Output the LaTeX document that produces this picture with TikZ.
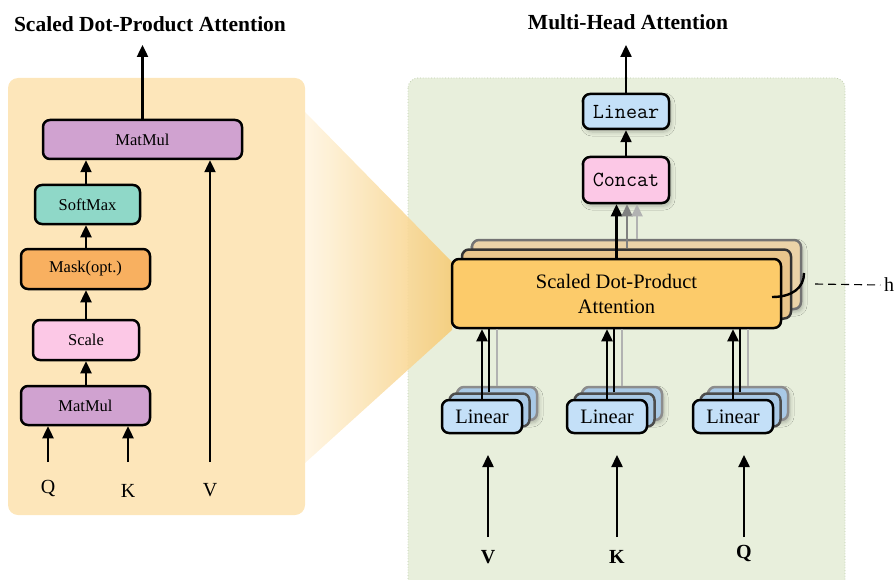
\documentclass[tikz,border=0pt]{standalone}
\usepackage{fontspec}
\setmainfont{Liberation Serif}
\usetikzlibrary{arrows.meta,shadows.blur}
\definecolor{lpanel}{HTML}{FDE6BA}
\definecolor{rpanel}{HTML}{E8EFDC}
\definecolor{rborder}{HTML}{BFCDAE}
\definecolor{purp}{HTML}{D0A2D0}
\definecolor{teal}{HTML}{8FD8C8}
\definecolor{maskc}{HTML}{F8B060}
\definecolor{pinkc}{HTML}{FCC8E6}
\definecolor{lblue}{HTML}{C4E0F8}
\definecolor{lblueb}{HTML}{A9C9E6}
\definecolor{sdpa}{HTML}{FCCB6A}
\definecolor{sdpab}{HTML}{E8C58C}
\definecolor{sdpac}{HTML}{EBD3A8}
\definecolor{funL}{HTML}{FFF5E2}
\definecolor{funR}{HTML}{F6CC78}
\begin{document}
\begin{tikzpicture}[x=1pt,y=-1pt,
  box/.style={draw=black, line width=2.5pt, rounded corners=7pt, inner sep=0pt, align=center},
  lbox/.style={box, font=\fontsize{16.5}{18}\selectfont},
  tip/.tip={Triangle[length=12pt,width=11pt]},
  arr/.style={-tip, line width=2.4pt},
  ln/.style={line width=2.4pt},
  gln/.style={line width=1.6pt, draw=black!30},
  ttl/.style={font=\fontsize{21.5}{24}\selectfont\bfseries},
  inlab/.style={font=\fontsize{20}{22}\selectfont},
  shad/.style={blur shadow={shadow xshift=2pt, shadow yshift=-3pt, shadow opacity=25, shadow blur radius=4pt}},
]
\useasboundingbox (0,0) rectangle (896,580);

% ---------- panels ----------
\fill[rpanel, draw=rborder, dotted, line width=0.8pt, rounded corners=10pt] (408,78) rectangle (845,590);
\shade[left color=funL, right color=funR, opacity=0.9] (305,112) -- (452,262) -- (452,330) -- (305,463) -- cycle;
\fill[lpanel, rounded corners=10pt] (8,78) rectangle (305,515);

% ---------- titles ----------
\node[ttl] (t1) at (150,24) {Scaled Dot-Product Attention};
\node[ttl] (t2) at (628,22) {Multi-Head Attention};

% ---------- left: scaled dot-product attention ----------
\node[lbox, fill=purp, minimum width=199pt, minimum height=39pt] (mm1) at (142.5,139.5) {MatMul};
\node[lbox, fill=teal, minimum width=105pt, minimum height=39pt] (sm) at (87.5,204.5) {SoftMax};
\node[lbox, fill=maskc, minimum width=129pt, minimum height=40pt] (mask) at (85.5,269) {Mask(opt.)};
\node[lbox, fill=pinkc, minimum width=106pt, minimum height=40pt] (scale) at (86,340) {Scale};
\node[lbox, fill=purp, minimum width=129pt, minimum height=39pt] (mm2) at (85.5,405.5) {MatMul};

\node[inlab] (lq) at (48,488) {Q};
\node[inlab] (lk) at (128,491) {K};
\node[inlab] (lv) at (210,490) {V};
\coordinate (qa) at (48,462);
\coordinate (ka) at (128,462);
\coordinate (va) at (210,462);
\coordinate (out1) at (142.5,45);

\draw[arr] (mm2.north -| scale.south) -- (scale.south);
\draw[arr] (scale.north) -- (scale.north |- mask.south);
\draw[arr] (mask.north -| 86,0) -- (86,0 |- sm.south);
\draw[arr] (sm.north -| 86,0) -- (86,0 |- mm1.south);
\draw[arr] (qa) -- (qa |- mm2.south);
\draw[arr] (ka) -- (ka |- mm2.south);
\draw[arr] (va) -- (va |- mm1.south);
\draw[arr] (mm1.north) -- (out1);

% ---------- right: multi-head attention ----------
% SDPA stack
\node[box, fill=sdpac, draw=black!55, minimum width=329pt, minimum height=69pt, shad] (sd3) at (636.5,274.5) {};
\node[box, fill=sdpab, draw=black!80, minimum width=329pt, minimum height=69pt] (sd2) at (626.5,284) {};
\node[box, fill=sdpa, minimum width=329pt, minimum height=69pt, font=\fontsize{20.5}{25}\selectfont] (sd1) at (616.5,293.5) {Scaled Dot-Product\\Attention};

\node[box, fill=pinkc, minimum width=86pt, minimum height=46pt, font=\fontsize{21.5}{22}\selectfont\ttfamily, shad] (concat) at (626,180) {Concat};
\node[box, fill=lblue, minimum width=86pt, minimum height=35pt, font=\fontsize{21.5}{22}\selectfont\ttfamily, shad] (lin) at (626,111.5) {Linear};
\coordinate (out2) at (626,45);

\draw[arr] (lin.north) -- (out2);
\draw[arr] (concat.north) -- (lin.south);
\draw[arr] (sd1.north) -- (sd1.north |- concat.south);
\draw[-tip, line width=2.2pt, draw=black!50, fill=black!50] (sd2.north -| 627,0) -- (627,0 |- concat.south);
\draw[-tip, line width=2.2pt, draw=black!30, fill=black!30] (sd3.north -| 637,0) -- (637,0 |- concat.south);

% h bracket
\coordinate (hb1) at (772,297);
\coordinate (hb2) at (804,273);
\draw[line width=2.4pt] (hb1) .. controls (792,297) and (804,288) .. (hb2);
\node[font=\fontsize{20}{22}\selectfont] (hlab) at (889,285) {h};
\coordinate (hd) at (815,284);
\draw[line width=1.1pt, dash pattern=on 8pt off 5pt] (hd) -- (hlab.west);

% Linear stacks
\foreach \nm/\cx/\ax/\lab/\ly in {v/482/488/V/557, k/607/617/K/557, q/733/744/Q/553}{
  \node[box, fill=lblueb, draw=black!45, minimum width=80pt, minimum height=33pt, shad] (\nm3) at (\cx+15,403.5) {};
  \node[box, fill=lblueb, draw=black!70, minimum width=80pt, minimum height=33pt] (\nm2) at (\cx+7.5,410) {};
  \node[box, fill=lblue, minimum width=80pt, minimum height=33pt, font=\fontsize{20.5}{22}\selectfont] (\nm1) at (\cx,416.5) {Linear};
  \draw[arr] (\nm1.north) -- (\nm1.north |- sd1.south);
  \draw[ln] (\nm2.north -| \cx+7,0) -- (\cx+7,0 |- sd1.south);
  \draw[gln] (\nm3.north -| \cx+15,0) -- (\cx+15,0 |- sd1.south);
  \node[font=\fontsize{20}{22}\selectfont\bfseries] (\nm lab) at (\ax,\ly) {\lab};
  \coordinate (\nm in) at (\ax,537);
  \coordinate (\nm end) at (\ax,455);
  \draw[arr] (\nm in) -- (\nm end);
}
\end{tikzpicture}
\end{document}
